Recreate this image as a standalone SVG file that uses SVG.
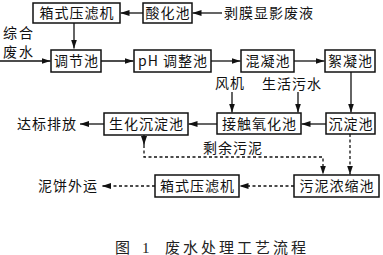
<svg xmlns="http://www.w3.org/2000/svg" width="383" height="255" viewBox="0 0 383 255">
<style>
.box{fill:#fff;stroke:#111;stroke-width:1.5}
.t{font-family:"Noto Sans CJK SC","Liberation Serif",serif;font-size:14px;fill:#111;letter-spacing:1px}
.c{text-anchor:middle}
.ln{fill:none;stroke:#111;stroke-width:1.3}
.d{stroke-dasharray:3 2.5}
.cap{font-family:"Liberation Serif","Noto Sans CJK SC",serif;font-size:15px;fill:#222}
</style>
<defs>
<marker id="ar" markerWidth="9" markerHeight="6" refX="9" refY="3" orient="auto" markerUnits="userSpaceOnUse">
<path d="M0,0 L9,3 L0,6 z" fill="#111"/>
</marker>
</defs>
<rect width="383" height="255" fill="#fff"/>
<g id="connectors">
<path class="ln" d="M143,13 L120.5,13" marker-end="url(#ar)"/>
<path class="ln" d="M222,13 L192.5,13" marker-end="url(#ar)"/>
<path class="ln" d="M74,23 L74,48.5" marker-end="url(#ar)"/>
<path class="ln" d="M0,61 L50.5,61" marker-end="url(#ar)"/>
<path class="ln" d="M101,61 L133.5,61" marker-end="url(#ar)"/>
<path class="ln" d="M211,61 L240.5,61" marker-end="url(#ar)"/>
<path class="ln" d="M294,61 L324.5,61" marker-end="url(#ar)"/>
<path class="ln" d="M232,92 L232,112.5" marker-end="url(#ar)"/>
<path class="ln" d="M298,92 L298,112.5" marker-end="url(#ar)"/>
<path class="ln" d="M351,72 L351,112.5" marker-end="url(#ar)"/>
<path class="ln" d="M326,124 L301.5,124" marker-end="url(#ar)"/>
<path class="ln" d="M217,124 L188.5,124" marker-end="url(#ar)"/>
<path class="ln" d="M104,124 L80,124" marker-end="url(#ar)"/>
<path class="ln" d="M144,135 L144,145" marker-end="url(#ar)"/>
<path class="ln d" d="M144,145 L144,157 L323,157 L323,174.5" marker-end="url(#ar)"/>
<path class="ln d" d="M350,134 L350,174.5" marker-end="url(#ar)"/>
<path class="ln d" d="M294,186 L239.5,186" marker-end="url(#ar)"/>
<path class="ln d" d="M155,186 L102,186" marker-end="url(#ar)"/>
</g>
<g id="n-filter-top"><rect class="box" x="33" y="3" width="87" height="20"/><text class="t c" x="77" y="18.3">箱式压滤机</text></g>
<g id="n-acid"><rect class="box" x="143" y="3" width="49" height="20"/><text class="t c" x="168" y="18.3">酸化池</text></g>
<g id="n-strip"><text class="t" x="224" y="18.3">剥膜显影废液</text></g>
<g id="n-mixed"><text class="t" x="3" y="38" style="letter-spacing:2px">综合</text><text class="t" x="3" y="57" style="letter-spacing:2px">废水</text></g>
<g id="n-equal"><rect class="box" x="51" y="50" width="50" height="22"/><text class="t c" x="76.5" y="66.3">调节池</text></g>
<g id="n-ph"><rect class="box" x="134" y="50" width="77" height="22"/><text class="t c" x="173" y="66.3">pH 调整池</text></g>
<g id="n-coag"><rect class="box" x="241" y="50" width="53" height="22"/><text class="t c" x="268" y="66.3">混凝池</text></g>
<g id="n-floc"><rect class="box" x="325" y="50" width="50" height="22"/><text class="t c" x="350.5" y="66.3">絮凝池</text></g>
<g id="n-fan"><text class="t" x="215" y="88">风机</text></g>
<g id="n-domestic"><text class="t" x="262" y="89">生活污水</text></g>
<g id="n-settle"><rect class="box" x="326" y="113" width="49" height="21"/><text class="t c" x="351" y="128.8">沉淀池</text></g>
<g id="n-contact"><rect class="box" x="217" y="113" width="84" height="21"/><text class="t c" x="259.5" y="128.8">接触氧化池</text></g>
<g id="n-bio"><rect class="box" x="104" y="113" width="84" height="22"/><text class="t c" x="146.5" y="129.3">生化沉淀池</text></g>
<g id="n-discharge"><text class="t" x="17" y="129.3">达标排放</text></g>
<g id="n-residual"><text class="t" x="203" y="153.3">剩余污泥</text></g>
<g id="n-thicken"><rect class="box" x="294" y="175" width="85" height="22"/><text class="t c" x="337" y="191.3">污泥浓缩池</text></g>
<g id="n-filter-bot"><rect class="box" x="155" y="175" width="84" height="22"/><text class="t c" x="197.5" y="191.3">箱式压滤机</text></g>
<g id="n-cake"><text class="t" x="38" y="191.3">泥饼外运</text></g>
<text class="cap" y="252.5"><tspan x="115">图</tspan><tspan x="142" font-family="Liberation Serif">1</tspan><tspan x="165" style="letter-spacing:3px">废水处理工艺流程</tspan></text>
</svg>
